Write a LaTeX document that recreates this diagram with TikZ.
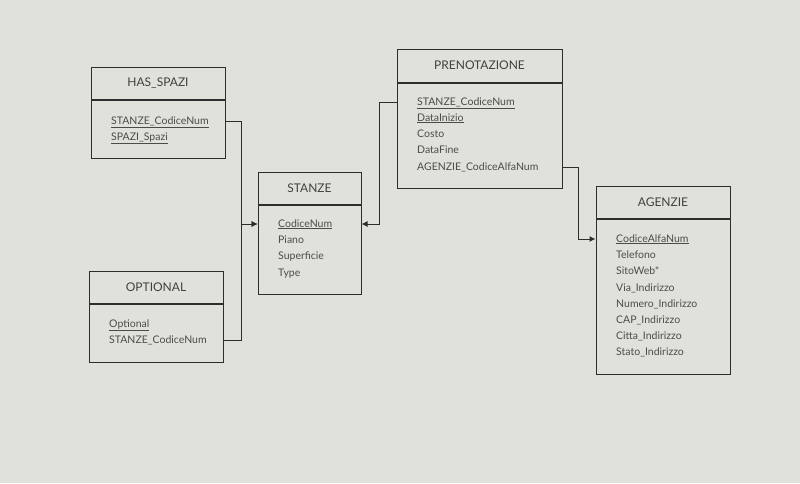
\documentclass[tikz,border=0pt]{standalone}
\usepackage{fontspec}
\setmainfont{Lato}
\usepackage{tikz}
\usetikzlibrary{arrows.meta, positioning}
\definecolor{bgcol}{RGB}{225,225,219}
\definecolor{linecol}{RGB}{45,45,45}
\definecolor{txtcol}{RGB}{75,75,75}
\tikzstyle{title} = [rectangle, draw=linecol, line width=1pt, minimum height=32pt, text centered, text=txtcol!85!black, font=\fontsize{12}{14}\selectfont]
\tikzstyle{body} = [rectangle, draw=linecol, line width=1pt, below=0pt of #1]
\tikzstyle{attr} = [anchor=west, inner sep=0pt, text height=8pt, text depth=2pt, text=txtcol, font=\fontsize{10.5}{12}\selectfont]
\tikzstyle{arrow} = [line width=1pt, draw=linecol, ->, >={Latex[length=6pt,width=6pt]}]
\newcommand{\key}[1]{\underline{#1}}

\begin{document}
\begin{tikzpicture}[x=1pt, y=-1pt]
\useasboundingbox [fill=bgcol] (0,0) rectangle (800,483);
\node (hs) [title, minimum width=134pt] at (158,83) {HAS\_SPAZI};
\node (hsbody) [body=hs, minimum width=134pt, minimum height=58pt] {};
\node (hs1) [attr] at (111,121) {\key{STANZE\_CodiceNum}};
\node (hs2) [attr] at (111,137) {\key{SPAZI\_Spazi}};
\node (op) [title, minimum width=134pt] at (156,287) {OPTIONAL};
\node (opbody) [body=op, minimum width=134pt, minimum height=58pt] {};
\node (op1) [attr] at (109,324) {\key{Optional}};
\node (op2) [attr] at (109,340) {STANZE\_CodiceNum};
\node (st) [title, minimum width=103pt] at (309.5,188) {STANZE};
\node (stbody) [body=st, minimum width=103pt, minimum height=89pt] {};
\node (st1) [attr] at (278,224) {\key{CodiceNum}};
\node (st2) [attr] at (278,240) {Piano};
\node (st3) [attr] at (278,256) {Superficie};
\node (st4) [attr] at (278,273) {Type};
\node (pr) [title, minimum width=165pt, minimum height=33pt] at (479.5,65.5) {PRENOTAZIONE};
\node (prbody) [body=pr, minimum width=165pt, minimum height=105pt] {};
\node (pr1) [attr] at (417,102) {\key{STANZE\_CodiceNum}};
\node (pr2) [attr] at (417,118) {\key{DataInizio}};
\node (pr3) [attr] at (417,134) {Costo};
\node (pr4) [attr] at (417,150) {DataFine};
\node (pr5) [attr] at (417,167) {AGENZIE\_CodiceAlfaNum};
\node (ag) [title, minimum width=134pt] at (663,202) {AGENZIE};
\node (agbody) [body=ag, minimum width=134pt, minimum height=155pt] {};
\node (ag1) [attr] at (616,239) {\key{CodiceAlfaNum}};
\node (ag2) [attr] at (616,255) {Telefono};
\node (ag3) [attr] at (616,271) {SitoWeb*};
\node (ag4) [attr] at (616,288) {Via\_Indirizzo};
\node (ag5) [attr] at (616,304) {Numero\_Indirizzo};
\node (ag6) [attr] at (616,320) {CAP\_Indirizzo};
\node (ag7) [attr] at (616,336) {Citta\_Indirizzo};
\node (ag8) [attr] at (616,352) {Stato\_Indirizzo};
\draw [arrow] (hs1 -| hsbody.east) -- ++(16,0) |- (st1 -| stbody.west);
\draw [arrow] (op2 -| opbody.east) -- ++(18,0) |- (st1 -| stbody.west);
\draw [arrow] (pr1 -| prbody.west) -- ++(-17,0) |- (st1 -| stbody.east);
\draw [arrow] (pr5 -| prbody.east) -- ++(16,0) |- (ag1 -| agbody.west);
\end{tikzpicture}
\end{document}
